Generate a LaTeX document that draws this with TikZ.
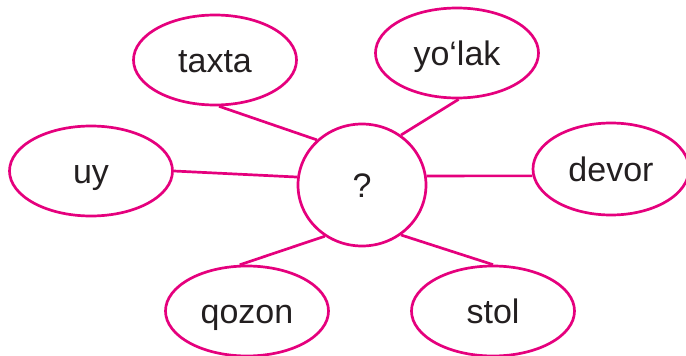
\documentclass[tikz,border=0pt]{standalone}
\usepackage{fontspec}
\setmainfont{Liberation Sans}
\usetikzlibrary{shapes.geometric}
\definecolor{pinkline}{HTML}{E5007D}
\definecolor{textgray}{HTML}{231F20}

\begin{document}
\begin{tikzpicture}[x=1pt, y=-1pt, line width=2.7pt, font=\fontsize{34}{40}\selectfont,
  word/.style={draw=pinkline, ellipse, minimum width=163pt, minimum height=90pt, inner sep=0pt, text=textgray, text height=30pt, text depth=6pt},
  hub/.style={draw=pinkline, ellipse, minimum width=128pt, minimum height=122pt, inner sep=0pt, text=textgray, text height=30pt, text depth=6pt}]
\useasboundingbox (0,0) rectangle (686,356);

\node[hub] (q) at (362,185) {?};

\node[word] (taxta) at (215,60) {taxta};
\node[word] (yolak) at (457,53) {yo‘lak};
\node[word] (uy) at (91,171) {uy};
\node[word, minimum width=156pt, minimum height=92pt] (devor) at (611,169) {devor};
\node[word] (qozon) at (247,311) {qozon};
\node[word] (stol) at (493,311) {stol};

\draw[pinkline] (taxta.275) -- (q.135);
\draw[pinkline] (yolak.272) -- (q.52);
\draw[pinkline] (uy.east) -- (q.173);
\draw[pinkline] (devor.185) -- (q.8);
\draw[pinkline] (qozon.99) -- (q.234);
\draw[pinkline] (stol.north) -- (q.308);
\end{tikzpicture}
\end{document}
